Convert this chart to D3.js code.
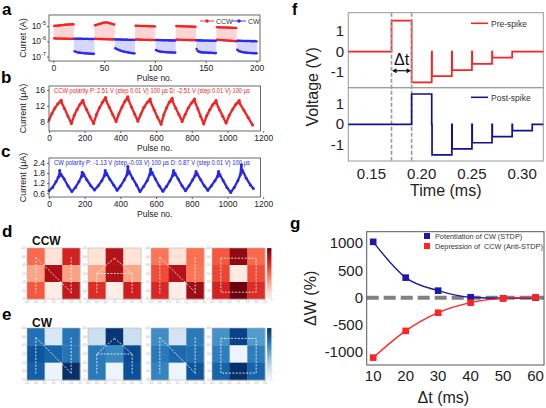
<!DOCTYPE html>
<html><head><meta charset="utf-8">
<script src="https://cdn.jsdelivr.net/npm/d3@7"></script>
<style>html,body{margin:0;padding:0;background:#fff;}svg{display:block;}</style>
</head><body><svg id="fig" width="546" height="408"></svg>
<script>
// ---------------- DATA ----------------
// Panel a: log10(current) per pulse, 10 groups of 20 pulses (CCW / CW alternating)
const aGroups = ["CCW","CW","CCW","CW","CCW","CW","CCW","CW","CCW","CW"];
const aHighLog = [
 [-4.99,-4.98,-4.98,-4.97,-4.96,-4.96,-4.95,-4.94,-4.94,-4.93,-4.92,-4.92,-4.91,-4.90,-4.90,-4.89,-4.89,-4.88,-4.88,-4.88],
 [-5.82,-5.82,-5.83,-5.82,-5.83,-5.83,-5.82,-5.83,-5.84,-5.83,-5.84,-5.84,-5.83,-5.84,-5.85,-5.84,-5.85,-5.85,-5.84,-5.85],
 [-4.95,-4.93,-4.91,-4.89,-4.87,-4.85,-4.83,-4.81,-4.79,-4.78,-4.77,-4.76,-4.77,-4.78,-4.80,-4.82,-4.84,-4.86,-4.88,-4.90],
 [-5.86,-5.87,-5.87,-5.88,-5.87,-5.88,-5.88,-5.89,-5.88,-5.89,-5.89,-5.88,-5.89,-5.90,-5.89,-5.90,-5.90,-5.89,-5.90,-5.91],
 [-4.98,-4.98,-4.99,-4.98,-4.99,-4.99,-4.99,-5.00,-4.99,-5.00,-5.00,-5.00,-5.01,-5.00,-5.01,-5.01,-5.02,-5.01,-5.02,-5.02],
 [-5.90,-5.91,-5.91,-5.92,-5.91,-5.92,-5.92,-5.93,-5.92,-5.93,-5.93,-5.92,-5.93,-5.94,-5.93,-5.94,-5.94,-5.93,-5.94,-5.95],
 [-5.00,-5.00,-5.01,-5.00,-5.01,-5.01,-5.02,-5.01,-5.02,-5.02,-5.03,-5.02,-5.03,-5.03,-5.04,-5.03,-5.04,-5.04,-5.05,-5.04],
 [-5.92,-5.93,-5.93,-5.94,-5.93,-5.94,-5.94,-5.95,-5.94,-5.95,-5.95,-5.94,-5.95,-5.96,-5.95,-5.96,-5.96,-5.95,-5.96,-5.97],
 [-5.07,-5.08,-5.08,-5.09,-5.08,-5.09,-5.09,-5.10,-5.09,-5.10,-5.10,-5.11,-5.10,-5.11,-5.11,-5.12,-5.11,-5.12,-5.12,-5.13],
 [-5.95,-5.96,-5.96,-5.97,-5.96,-5.97,-5.97,-5.98,-5.97,-5.98,-5.98,-5.97,-5.98,-5.99,-5.98,-5.99,-5.99,-5.98,-5.99,-6.00]
];
const aLowLog = [
 [-5.80,-5.81,-5.81,-5.82,-5.82,-5.81,-5.82,-5.82,-5.83,-5.82,-5.83,-5.83,-5.82,-5.83,-5.84,-5.83,-5.84,-5.84,-5.83,-5.84],
 [-6.64,-6.67,-6.70,-6.72,-6.74,-6.73,-6.75,-6.76,-6.75,-6.77,-6.78,-6.77,-6.79,-6.78,-6.80,-6.79,-6.81,-6.80,-6.82,-6.81],
 [-5.83,-5.84,-5.84,-5.85,-5.84,-5.85,-5.85,-5.86,-5.85,-5.86,-5.86,-5.85,-5.86,-5.87,-5.86,-5.87,-5.87,-5.86,-5.87,-5.88],
 [-6.45,-6.48,-6.52,-6.55,-6.58,-6.60,-6.62,-6.64,-6.66,-6.67,-6.69,-6.70,-6.71,-6.73,-6.74,-6.75,-6.76,-6.77,-6.78,-6.78],
 [-5.87,-5.88,-5.88,-5.89,-5.88,-5.89,-5.89,-5.90,-5.89,-5.90,-5.90,-5.89,-5.90,-5.91,-5.90,-5.91,-5.91,-5.90,-5.91,-5.92],
 [-6.56,-6.60,-6.63,-6.65,-6.66,-6.68,-6.67,-6.69,-6.70,-6.69,-6.71,-6.70,-6.72,-6.71,-6.72,-6.73,-6.72,-6.73,-6.74,-6.73],
 [-5.88,-5.89,-5.89,-5.90,-5.89,-5.90,-5.90,-5.91,-5.90,-5.91,-5.91,-5.90,-5.91,-5.92,-5.91,-5.92,-5.92,-5.91,-5.92,-5.93],
 [-6.50,-6.62,-6.68,-6.66,-6.72,-6.70,-6.74,-6.71,-6.73,-6.75,-6.72,-6.74,-6.76,-6.73,-6.75,-6.74,-6.76,-6.75,-6.77,-6.76],
 [-5.89,-5.90,-5.90,-5.91,-5.91,-5.92,-5.92,-5.93,-5.93,-5.94,-5.94,-5.95,-5.95,-5.96,-5.96,-5.97,-5.97,-5.98,-5.99,-6.00],
 [-6.55,-6.60,-6.64,-6.66,-6.68,-6.70,-6.71,-6.72,-6.73,-6.74,-6.74,-6.75,-6.76,-6.75,-6.76,-6.77,-6.76,-6.77,-6.78,-6.77]
];
const aXTicks = [0,50,100,150,200];
const aYTicks = [-5,-6,-7];

// Panel b: CCW polarity current (uA) vs pulse no.
const bPulse = [0,16,33,50,68,70,88,106,125,141,157,173,190,192,211,230,250,266,283,300,317,319,338,357,376,392,409,425,442,444,462,480,498,515,532,550,567,569,589,608,628,643,658,674,690,692,710,728,746,763,780,798,815,817,834,850,867,884,901,918,936,938,956,974,992,1010,1029,1047,1066,1068,1092,1116,1141];
const bCurrent = [8.4,10.0,11.4,12.5,13.4,12.8,11.2,9.4,7.5,9.5,11.0,12.3,13.4,12.8,11.0,9.2,7.5,9.8,11.5,12.9,14.1,13.4,11.6,9.8,8.0,10.0,11.7,13.1,14.3,13.6,11.7,9.9,8.1,9.9,11.6,12.8,13.7,13.0,11.0,9.1,7.3,9.7,11.4,12.9,13.9,13.2,11.4,9.7,8.0,9.8,11.4,12.7,13.7,13.0,11.2,9.3,7.4,9.5,11.0,12.3,13.3,12.7,10.9,9.3,7.6,9.6,11.1,12.4,13.3,12.6,10.9,9.0,7.1];
const bYTicks = [8,12,16];
const bcXTicks = [0,200,400,600,800,1000,1200];

// Panel c: CW polarity current (uA) vs pulse no.
const cPulse = [0,20,40,52,58,60,62,66,85,106,128,148,168,182,186,188,192,212,234,255,276,296,310,315,318,322,340,362,382,402,422,437,442,445,449,468,490,510,530,550,564,570,573,577,596,617,638,658,678,692,698,701,705,724,745,765,785,805,818,824,827,831,850,870,890,910,930,944,950,953,957,976,997,1018,1038,1058,1072,1078,1081,1085,1105,1128,1145];
const cCurrent = [0.75,0.95,1.3,1.55,1.7,1.95,1.65,1.75,1.45,1.05,0.7,0.95,1.3,1.6,1.85,1.65,1.78,1.4,1.05,0.8,1.05,1.35,1.65,1.95,1.7,1.8,1.45,1.1,0.78,1.05,1.4,1.7,2.2,1.8,1.9,1.5,1.1,0.7,1.0,1.35,1.7,2.05,1.75,1.85,1.45,1.05,0.72,1.0,1.35,1.65,1.95,1.7,1.8,1.45,1.05,0.75,1.05,1.4,1.65,1.9,1.7,1.75,1.4,1.05,0.78,1.05,1.35,1.6,1.9,1.65,1.72,1.35,0.95,0.65,0.95,1.35,1.7,2.3,1.85,1.95,1.5,1.1,0.88];
const cYTicks = [0.6,1.2,1.8,2.4];

// Panels d / e: normalized conductance maps (3x3) for letters N, A, N, O
const mapLetters = ["N","A","N","O"];
const mapCCW = [
 [[0.50,0.10,0.72],[0.32,0.85,0.33],[0.55,0.05,0.78]],
 [[0.10,0.82,0.10],[0.32,0.84,0.32],[0.68,0.04,0.74]],
 [[0.46,0.10,0.48],[0.58,0.82,0.46],[0.70,0.04,0.88]],
 [[0.55,0.92,0.50],[0.60,0.06,0.58],[0.72,0.99,0.68]]
];
const mapCW = [
 [[0.75,0.16,0.74],[0.86,0.80,0.74],[0.82,0.06,1.00]],
 [[0.22,0.98,0.22],[0.72,0.66,0.90],[0.72,0.05,0.88]],
 [[0.64,0.18,0.72],[0.72,0.78,0.76],[0.68,0.05,0.86]],
 [[0.62,0.93,0.58],[0.70,0.05,0.70],[0.80,1.00,0.80]]
];
const mapAxisTicks = ["-0.5","0.0","0.5","1.0","1.5","2.0","2.5"];

// Panel f: spike waveforms (time ms, voltage V)
const fPreT = [0.127,0.17,0.17,0.19,0.19,0.21,0.21,0.2103,0.2103,0.23,0.23,0.2303,0.2303,0.25,0.25,0.2503,0.2503,0.27,0.27,0.2703,0.2703,0.29,0.29,0.321];
const fPreV = [0,0,1.5,1.5,-1.5,-1.5,0,0,-1.2,-1.2,0,0,-0.9,-0.9,0,0,-0.6,-0.6,0,0,-0.3,-0.3,0,0];
const fPostT = [0.127,0.19,0.19,0.21,0.21,0.2103,0.2103,0.23,0.23,0.2303,0.2303,0.25,0.25,0.2503,0.2503,0.27,0.27,0.2703,0.2703,0.29,0.29,0.2903,0.2903,0.31,0.31,0.321];
const fPostV = [0,0,1.5,1.5,0,0,-1.5,-1.5,0,0,-1.2,-1.2,0,0,-0.9,-0.9,0,0,-0.6,-0.6,0,0,-0.3,-0.3,0,0];
const fXTicks = [0.15,0.20,0.25,0.30];
const fYTicks = [1,0,-1];
const fMarks = [0.17,0.19];

// Panel g: STDP
const gDt = [10,20,30,40,50,60];
const gPot = [1030,370,130,8,-10,0];
const gDep = [-1105,-612,-277,-92,-12,6];
const gXTicks = [10,20,30,40,50,60];
const gYTicks = [1000,500,0,-500,-1000];

// ---------------- DRAWING ----------------
const FONT = "'Liberation Sans', Arial, Helvetica, sans-serif";
const svg = d3.select("#fig").style("font-family", FONT);
svg.append("rect").attr("width",546).attr("height",408).attr("fill","#fff");
const RED = "#f42323", BLUE = "#2b2bf0";

function txt(g, x, y, s, o = {}) {
  return g.append("text").attr("x", x).attr("y", y).text(s)
    .attr("font-size", o.size || 9).attr("fill", o.fill || "#222")
    .attr("text-anchor", o.anchor || "start")
    .attr("font-weight", o.weight || "normal")
    .attr("transform", o.rot ? `rotate(${o.rot},${x},${y})` : null);
}
function styleAxis(sel, col) {
  sel.select(".domain").remove();
  sel.selectAll(".tick line").attr("stroke", col || "#444").attr("stroke-width", 0.8);
  sel.selectAll(".tick text").attr("fill", "#222").attr("font-family", FONT);
}
function frame(g, l, t, r, b, col, w) {
  g.append("rect").attr("x", l).attr("y", t).attr("width", r - l).attr("height", b - t)
    .attr("fill", "none").attr("stroke", col || "#444").attr("stroke-width", w || 0.8);
}

// panel letters
[["a",2,15,17],["b",1,83,17],["c",1,157,17],["d",2,237,17],["e",2,320,17],["f",292,15,16],["g",290,229,17]]
  .forEach(([s,x,y,sz]) => txt(svg, x, y, s, {size: sz, weight: "bold", fill: "#000"}));

// ===== Panel a =====
{
  const box = {l:49, r:260, t:15, b:61};
  const x = d3.scaleLinear().domain([-4.2, 203.4]).range([box.l, box.r]);
  const y = d3.scaleLog().domain([Math.pow(10,-7.28), Math.pow(10,-4.28)]).range([box.b, box.t]);
  const g = svg.append("g");
  aGroups.forEach((grp, gi) => {
    const col = grp === "CCW" ? RED : BLUE;
    const pts = aHighLog[gi].map((h, k) => ({p: gi*20 + k + 1, hi: Math.pow(10,h), lo: Math.pow(10,aLowLog[gi][k])}));
    g.selectAll(null).data(pts).enter().append("line")
      .attr("x1", d => x(d.p)).attr("x2", d => x(d.p))
      .attr("y1", d => y(d.hi)).attr("y2", d => y(d.lo))
      .attr("stroke", col).attr("stroke-opacity", 0.4).attr("stroke-width", 0.5);
    ["hi","lo"].forEach(key => {
      g.append("path").datum(pts)
        .attr("d", d3.line().x(d => x(d.p)).y(d => y(d[key])))
        .attr("fill","none").attr("stroke", col).attr("stroke-width", 0.9);
      g.selectAll(null).data(pts).enter().append("circle")
        .attr("cx", d => x(d.p)).attr("cy", d => y(d[key])).attr("r", 1.2).attr("fill", col);
    });
  });
  frame(g, box.l, box.t, box.r, box.b);
  const ax = g.append("g").attr("transform", `translate(0,${box.b})`)
    .call(d3.axisBottom(x).tickValues(aXTicks).tickSize(2).tickPadding(1.5));
  styleAxis(ax); ax.selectAll("text").attr("font-size", 8.5);
  const ay = g.append("g").attr("transform", `translate(${box.l},0)`)
    .call(d3.axisLeft(y).tickValues(aYTicks.map(e => Math.pow(10,e))).tickSize(2).tickFormat(""));
  styleAxis(ay);
  aYTicks.forEach(e => {
    const t = g.append("text").attr("x", 46).attr("y", y(Math.pow(10,e)) + 3)
      .attr("text-anchor","end").attr("font-size", 8.5).attr("fill","#222");
    t.append("tspan").text("10");
    t.append("tspan").text(String(e)).attr("font-size", 5.5).attr("dy", -4);
  });
  txt(g, 26, (box.t + box.b)/2, "Curret (A)", {size: 9, anchor: "middle", rot: -90});
  txt(g, (box.l + box.r)/2, 81, "Pulse no.", {size: 8.5, anchor: "middle"});
  // legend
  [["CCW", RED, 200, 216], ["CW", BLUE, 232, 248]].forEach(([s, c, lx, tx]) => {
    g.append("line").attr("x1", lx).attr("x2", lx + 14).attr("y1", 21).attr("y2", 21).attr("stroke", c).attr("stroke-width", 0.9);
    g.append("circle").attr("cx", lx + 7).attr("cy", 21).attr("r", 1.8).attr("fill", c);
    txt(g, tx, 23.5, s, {size: 7, fill: "#333"});
  });
}

// ===== Panels b & c =====
function sawPanel(box, pulses, vals, yDomain, yTicks, col, note, noteY, fmt, labelY) {
  const x = d3.scaleLinear().domain([0, 1185]).range([box.l, box.r]);
  const y = d3.scaleLinear().domain(yDomain).range([box.b, box.t]);
  const g = svg.append("g");
  const data = pulses.map((p, i) => [p, vals[i]]);
  g.append("path").datum(data)
    .attr("d", d3.line().x(d => x(d[0])).y(d => y(d[1])))
    .attr("fill","none").attr("stroke", col).attr("stroke-width", 2.3).attr("stroke-linejoin","round");
  g.selectAll(null).data(data).enter().append("circle")
    .attr("cx", d => x(d[0])).attr("cy", d => y(d[1])).attr("r", 1.5).attr("fill", col);
  frame(g, box.l, box.t, box.r, box.b);
  const ax = g.append("g").attr("transform", `translate(0,${box.b})`)
    .call(d3.axisBottom(x).tickValues(bcXTicks).tickSize(2).tickPadding(1.5).tickFormat(d3.format("d")));
  styleAxis(ax); ax.selectAll("text").attr("font-size", 8.5);
  const ay = g.append("g").attr("transform", `translate(${box.l},0)`)
    .call(d3.axisLeft(y).tickValues(yTicks).tickSize(2).tickPadding(2).tickFormat(d3.format(fmt)));
  styleAxis(ay); ay.selectAll("text").attr("font-size", 8.5);
  txt(g, 54, noteY, note, {size: 6.3, fill: col}).attr("textLength", 196).attr("lengthAdjust","spacingAndGlyphs");
  txt(g, 26, (box.t + box.b)/2, "Current (\u03bcA)", {size: 9, anchor: "middle", rot: -90});
  txt(g, (box.l + box.r)/2, labelY, "Pulse no.", {size: 8.5, anchor: "middle"});
}
sawPanel({l:49, r:260.5, t:86, b:131}, bPulse, bCurrent, [5.6, 17.0], bYTicks, RED,
  "CCW polarity P: 2.51 V (step 0.01 V) 100 \u03bcs D: -2.51 V (step 0.01 V) 100 \u03bcs", 92.5, "d", 151);
sawPanel({l:49, r:260.5, t:158, b:197}, cPulse, cCurrent, [0.38, 2.7], cYTicks, "#2828e6",
  "CW polarity P: -1.13 V (step -0.03 V) 100 \u03bcs D: 0.87 V (step 0.01 V) 100 \u03bcs", 165, ".1f", 217);

// ===== Panels d & e (maps) =====
const defs = svg.append("defs");
function gradient(id, interp) {
  const lg = defs.append("linearGradient").attr("id", id).attr("x1",0).attr("y1",0).attr("x2",0).attr("y2",1);
  d3.range(0, 1.01, 0.1).forEach(o => lg.append("stop").attr("offset", o).attr("stop-color", interp(1 - o)));
}
gradient("gRed", d3.interpolateReds);
gradient("gBlue", d3.interpolateBlues);
const mapX = [27, 88, 151, 212];
function letterPath(L, x0, y0, cw, ch) {
  const P = (c, r) => [x0 + (c + 0.5)*cw, y0 + (r + 0.5)*ch];
  const seg = {
    N: [[[0,0.05],[0,2.2]], [[0,0.05],[2,2.1]], [[2,0.05],[2,2.2]]],
    A: [[[1,0.1],[0,1],[0,2.2]], [[1,0.1],[2,1],[2,2.2]], [[0,1],[2,1]]],
    O: [[[0,0.1],[2,0.1],[2,2.1],[0,2.1],[0,0.1]]]
  }[L];
  return seg.map(s => "M" + s.map(p => P(p[0], p[1]).join(",")).join("L")).join("");
}
function mapRow(maps, y0, h, interp, gradId, title, titleY) {
  const g = svg.append("g");
  txt(g, 32, titleY, title, {size: 12, weight: "bold", fill: "#111"});
  maps.forEach((m, i) => {
    const x0 = mapX[i], w = 53, cw = w/3, ch = h/3;
    m.forEach((row, r) => row.forEach((v, c) => {
      g.append("rect").attr("x", x0 + c*cw).attr("y", y0 + r*ch).attr("width", cw + 0.3).attr("height", ch + 0.3)
        .attr("fill", interp(v));
    }));
    frame(g, x0, y0, x0 + w, y0 + h, "#bbb", 0.6);
    g.append("path").attr("d", letterPath(mapLetters[i], x0, y0, cw, ch))
      .attr("fill","none").attr("stroke","#fff").attr("stroke-opacity",0.9)
      .attr("stroke-width",0.9).attr("stroke-dasharray","2,1.4");
    mapAxisTicks.forEach((t, k) => {
      const px = x0 + k*w/6, py = y0 + k*h/6;
      g.append("line").attr("x1", px).attr("x2", px).attr("y1", y0 + h).attr("y2", y0 + h + 1).attr("stroke","#bbb").attr("stroke-width",0.4);
      txt(g, px, y0 + h + 3.5, t, {size: 2.6, anchor: "middle", fill: "#999"});
      g.append("line").attr("x1", x0 - 1).attr("x2", x0).attr("y1", py).attr("y2", py).attr("stroke","#bbb").attr("stroke-width",0.4);
      txt(g, x0 - 1.5, py + 1, t, {size: 2.6, anchor: "end", fill: "#999"});
    });
  });
  g.append("rect").attr("x", 267).attr("y", y0).attr("width", 4.5).attr("height", h).attr("fill", `url(#${gradId})`)
    .attr("stroke","#ccc").attr("stroke-width",0.3);
  d3.range(7).forEach(k => {
    const py = y0 + k*h/6;
    g.append("line").attr("x1", 271.5).attr("x2", 273).attr("y1", py).attr("y2", py).attr("stroke","#aaa").attr("stroke-width",0.4);
  });
}
mapRow(mapCCW, 248, 51, d3.interpolateReds, "gRed", "CCW", 245);
mapRow(mapCW, 328, 52, d3.interpolateBlues, "gBlue", "CW", 327);

// ===== Panel f =====
{
  const box = {l:348.3, r:543.3, t:12.7, m:87.7, b:161};
  const x = d3.scaleLinear().domain([0.127, 0.321]).range([box.l, box.r]);
  const yT = d3.scaleLinear().domain([-1.76, 1.89]).range([box.m, box.t]);
  const yB = d3.scaleLinear().domain([-1.8, 1.81]).range([box.b, box.m]);
  const g = svg.append("g");
  frame(g, box.l, box.t, box.r, box.m, "#999", 1);
  frame(g, box.l, box.m, box.r, box.b, "#999", 1);
  const pre = fPreT.map((t, i) => [t, fPreV[i]]);
  const post = fPostT.map((t, i) => [t, fPostV[i]]);
  g.append("path").datum(pre).attr("d", d3.line().x(d => x(d[0])).y(d => yT(d[1])))
    .attr("fill","none").attr("stroke","#ff1f1f").attr("stroke-width",1.7);
  fMarks.forEach(t => g.append("line").attr("x1", x(t)).attr("x2", x(t)).attr("y1", box.t).attr("y2", box.b)
    .attr("stroke","#999").attr("stroke-width",1.6).attr("stroke-dasharray","4,2"));
  g.append("path").datum(post).attr("d", d3.line().x(d => x(d[0])).y(d => yB(d[1])))
    .attr("fill","none").attr("stroke","#12128c").attr("stroke-width",1.7);
  fXTicks.forEach(t => txt(g, x(t), 179, d3.format(".2f")(t), {size: 15, anchor: "middle"}));
  fYTicks.forEach(v => {
    txt(g, 344, yT(v) + 5, String(v), {size: 15, anchor: "end"});
    txt(g, 344, yB(v) + 5, String(v), {size: 15, anchor: "end"});
  });
  txt(g, (box.l + box.r)/2, 196, "Time (ms)", {size: 16, anchor: "middle"});
  txt(g, 318, (box.t + box.b)/2, "Voltage (V)", {size: 16, anchor: "middle", rot: -90});
  // delta t annotation
  const ax0 = x(fMarks[0]), ax1 = x(fMarks[1]);
  txt(g, (ax0 + ax1)/2, 65, "\u0394t", {size: 16, anchor: "middle", fill: "#111"});
  g.append("line").attr("x1", ax0 + 4).attr("x2", ax1 - 4).attr("y1", 70.7).attr("y2", 70.7).attr("stroke","#111").attr("stroke-width",1.2);
  g.append("path").attr("d", `M${ax0+0.5},70.7L${ax0+5},68.2L${ax0+5},73.2Z M${ax1-0.5},70.7L${ax1-5},68.2L${ax1-5},73.2Z`).attr("fill","#111");
  // legends
  g.append("line").attr("x1",471).attr("x2",488).attr("y1",23.3).attr("y2",23.3).attr("stroke","#ff1f1f").attr("stroke-width",1.5);
  txt(g, 491, 26.5, "Pre-spike", {size: 8.5, fill: "#333"});
  g.append("line").attr("x1",471).attr("x2",488).attr("y1",97.3).attr("y2",97.3).attr("stroke","#12128c").attr("stroke-width",1.5);
  txt(g, 491, 100.5, "Post-spike", {size: 8.5, fill: "#333"});
}

// ===== Panel g =====
{
  const box = {l:366.7, r:544, t:231.7, b:365};
  const x = d3.scaleLinear().domain([8, 62.6]).range([box.l, box.r]);
  const y = d3.scaleLinear().domain([-1241, 1217]).range([box.b, box.t]);
  const g = svg.append("g");
  g.append("line").attr("x1", box.l).attr("x2", box.r).attr("y1", y(0)).attr("y2", y(0))
    .attr("stroke","#808080").attr("stroke-width",4).attr("stroke-dasharray","12,5");
  const series = [[gPot, "#1a1aa6"], [gDep, "#ff2424"]];
  series.forEach(([vals, col]) => {
    const data = gDt.map((t, i) => [t, vals[i]]);
    g.append("path").datum(data).attr("d", d3.line().curve(d3.curveMonotoneX).x(d => x(d[0])).y(d => y(d[1])))
      .attr("fill","none").attr("stroke", col).attr("stroke-width",1.4);
    g.selectAll(null).data(data).enter().append("rect")
      .attr("x", d => x(d[0]) - 3.3).attr("y", d => y(d[1]) - 3.3).attr("width", 6.6).attr("height", 6.6).attr("fill", col);
  });
  frame(g, box.l, box.t, box.r, box.b, "#555", 1);
  gXTicks.forEach(t => txt(g, x(t), 381, String(t), {size: 15, anchor: "middle"}));
  gYTicks.forEach(v => txt(g, 363, y(v) + 5, String(v), {size: 15, anchor: "end"}));
  txt(g, (box.l + box.r)/2 - 12, 403, "\u0394t (ms)", {size: 16, anchor: "middle"});
  txt(g, 316, (box.t + box.b)/2, "\u0394W (%)", {size: 16, anchor: "middle", rot: -90});
  g.append("rect").attr("x",424).attr("y",233).attr("width",6).attr("height",6).attr("fill","#1a1aa6");
  txt(g, 435, 239, "Potentiation of CW (STDP)", {size: 7.3, fill: "#333"});
  g.append("rect").attr("x",424).attr("y",243).attr("width",6).attr("height",6).attr("fill","#ff2424");
  txt(g, 435, 249, "Depression of  CCW (Anti-STDP)", {size: 7.3, fill: "#333"}).attr("xml:space","preserve");
}
</script></body></html>
